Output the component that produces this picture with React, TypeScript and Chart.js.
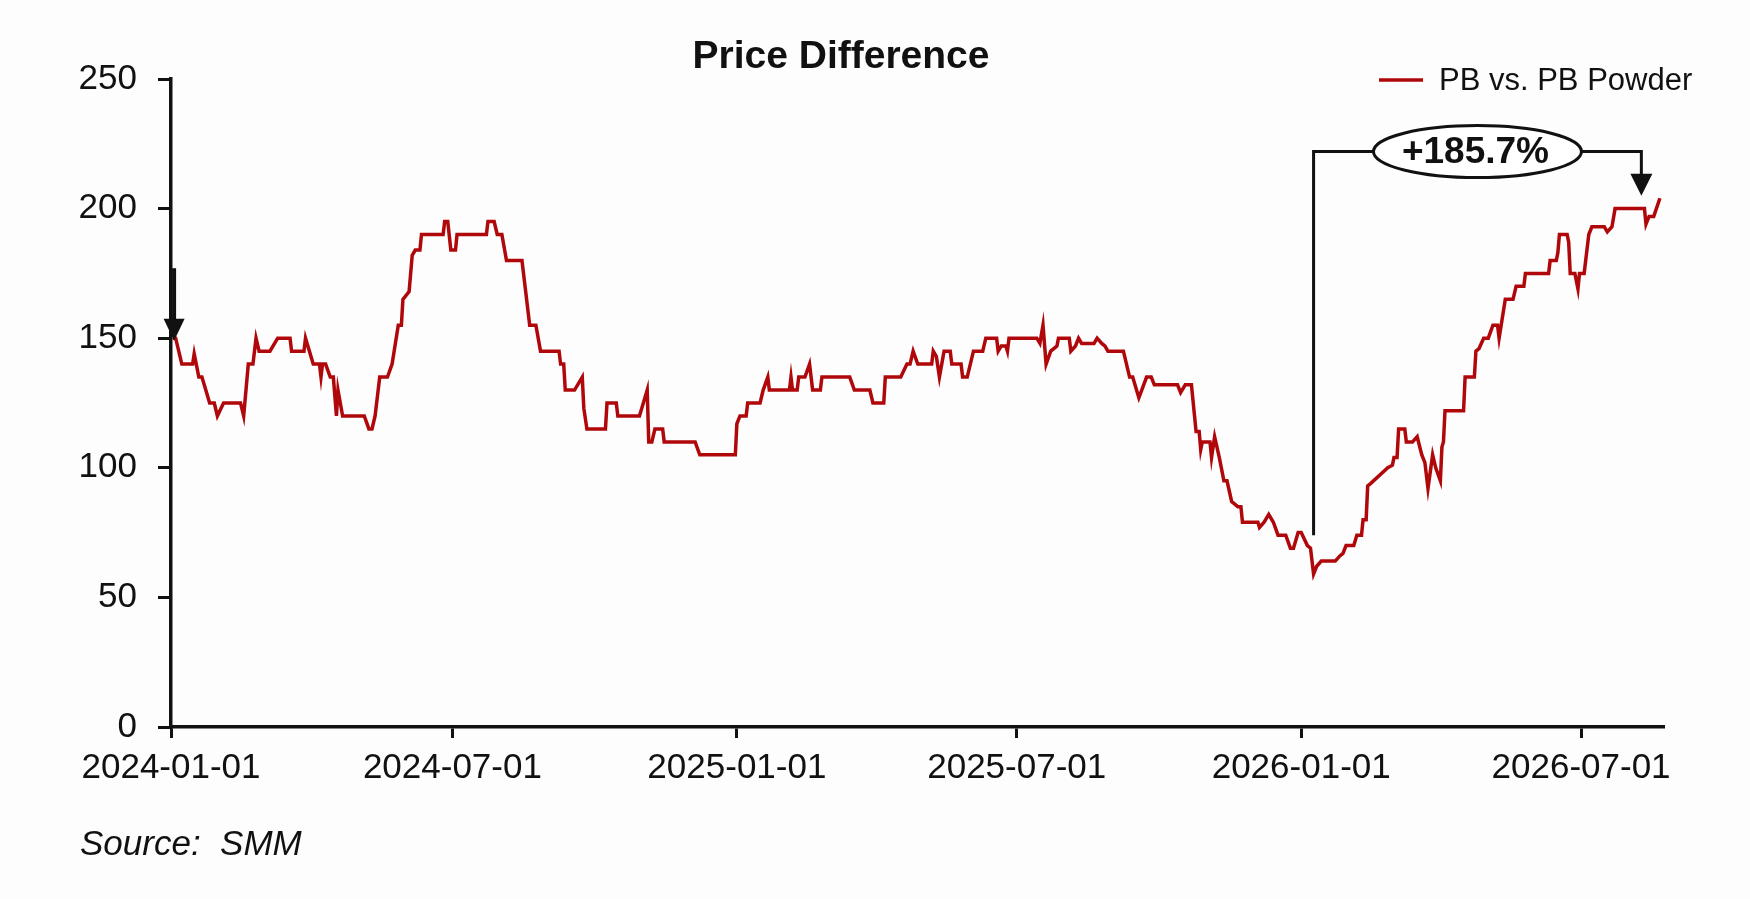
import React, { useEffect, useRef } from 'react';
import { Chart, registerables } from 'chart.js';

Chart.register(...registerables);

// PB vs. PB Powder price difference
const dates = [
  '2024-01-02', '2024-01-04', '2024-01-08', '2024-01-15', '2024-01-16', '2024-01-19', '2024-01-21', '2024-01-26',
  '2024-01-29', '2024-01-31', '2024-02-04', '2024-02-15', '2024-02-17', '2024-02-20', '2024-02-23', '2024-02-25',
  '2024-02-27', '2024-03-05', '2024-03-10', '2024-03-18', '2024-03-19', '2024-03-27', '2024-03-28', '2024-04-02',
  '2024-04-06', '2024-04-07', '2024-04-08', '2024-04-10', '2024-04-13', '2024-04-15', '2024-04-17', '2024-04-18',
  '2024-04-21', '2024-05-05', '2024-05-08', '2024-05-10', '2024-05-12', '2024-05-15', '2024-05-20', '2024-05-23',
  '2024-05-27', '2024-05-29', '2024-05-30', '2024-06-03', '2024-06-05', '2024-06-07', '2024-06-10', '2024-06-11',
  '2024-06-25', '2024-06-26', '2024-06-28', '2024-06-30', '2024-07-03', '2024-07-04', '2024-07-23', '2024-07-24',
  '2024-07-28', '2024-07-30', '2024-08-02', '2024-08-05', '2024-08-15', '2024-08-20', '2024-08-24', '2024-08-27',
  '2024-09-08', '2024-09-09', '2024-09-11', '2024-09-12', '2024-09-18', '2024-09-23', '2024-09-24', '2024-09-26',
  '2024-10-08', '2024-10-09', '2024-10-15', '2024-10-16', '2024-10-30', '2024-11-04', '2024-11-05', '2024-11-07',
  '2024-11-09', '2024-11-14', '2024-11-15', '2024-12-05', '2024-12-08', '2024-12-31', '2025-01-01', '2025-01-03',
  '2025-01-07', '2025-01-08', '2025-01-16', '2025-01-18', '2025-01-21', '2025-01-22', '2025-02-04', '2025-02-05',
  '2025-02-06', '2025-02-09', '2025-02-10', '2025-02-14', '2025-02-17', '2025-02-19', '2025-02-24', '2025-02-25',
  '2025-03-15', '2025-03-18', '2025-03-28', '2025-03-30', '2025-04-06', '2025-04-07', '2025-04-17', '2025-04-21',
  '2025-04-23', '2025-04-25', '2025-04-28', '2025-05-07', '2025-05-08', '2025-05-10', '2025-05-12', '2025-05-15',
  '2025-05-19', '2025-05-20', '2025-05-26', '2025-05-27', '2025-05-30', '2025-06-03', '2025-06-09', '2025-06-11',
  '2025-06-18', '2025-06-19', '2025-06-21', '2025-06-24', '2025-06-25', '2025-06-26', '2025-07-14', '2025-07-16',
  '2025-07-18', '2025-07-20', '2025-07-23', '2025-07-27', '2025-07-28', '2025-08-04', '2025-08-05', '2025-08-08',
  '2025-08-10', '2025-08-12', '2025-08-20', '2025-08-22', '2025-08-25', '2025-08-27', '2025-08-29', '2025-09-08',
  '2025-09-12', '2025-09-14', '2025-09-18', '2025-09-23', '2025-09-26', '2025-09-28', '2025-10-13', '2025-10-15',
  '2025-10-18', '2025-10-22', '2025-10-25', '2025-10-27', '2025-10-28', '2025-10-29', '2025-11-03', '2025-11-04',
  '2025-11-06', '2025-11-09', '2025-11-12', '2025-11-14', '2025-11-17', '2025-11-21', '2025-11-23', '2025-11-24',
  '2025-12-04', '2025-12-05', '2025-12-08', '2025-12-11', '2025-12-14', '2025-12-17', '2025-12-22', '2025-12-25',
  '2025-12-27', '2025-12-30', '2026-01-01', '2026-01-05', '2026-01-07', '2026-01-09', '2026-01-11', '2026-01-14',
  '2026-01-23', '2026-01-26', '2026-01-28', '2026-01-30', '2026-02-04', '2026-02-06', '2026-02-09', '2026-02-10',
  '2026-02-12', '2026-02-13', '2026-02-15', '2026-02-26', '2026-03-01', '2026-03-02', '2026-03-04', '2026-03-05',
  '2026-03-09', '2026-03-10', '2026-03-14', '2026-03-17', '2026-03-20', '2026-03-22', '2026-03-24', '2026-03-27',
  '2026-03-29', '2026-04-01', '2026-04-02', '2026-04-03', '2026-04-04', '2026-04-16', '2026-04-17', '2026-04-23',
  '2026-04-24', '2026-04-26', '2026-04-29', '2026-05-02', '2026-05-05', '2026-05-08', '2026-05-09', '2026-05-13',
  '2026-05-18', '2026-05-20', '2026-05-25', '2026-05-26', '2026-06-10', '2026-06-11', '2026-06-15', '2026-06-16',
  '2026-06-17', '2026-06-22', '2026-06-23', '2026-06-24', '2026-06-27', '2026-06-29', '2026-06-30', '2026-07-03',
  '2026-07-06', '2026-07-08', '2026-07-16', '2026-07-18', '2026-07-21', '2026-07-23', '2026-08-11', '2026-08-12',
  '2026-08-14', '2026-08-17', '2026-08-21',
];

const values = [
  150, 150, 140, 140, 144, 135, 135, 125,
  125, 120, 125, 125, 120, 140, 140, 150,
  145, 145, 150, 150, 145, 145, 150, 140,
  140, 135, 140, 140, 135, 135, 120, 130,
  120, 120, 115, 115, 120, 135, 135, 140,
  155, 155, 165, 168, 182, 184, 184, 190,
  190, 195, 195, 184, 184, 190, 190, 195,
  195, 190, 190, 180, 180, 155, 155, 145,
  145, 140, 140, 130, 130, 135, 123, 115,
  115, 125, 125, 120, 120, 130, 110, 110,
  115, 115, 110, 110, 105, 105, 117, 120,
  120, 125, 125, 130, 135, 130, 130, 135,
  130, 130, 135, 135, 140, 130, 130, 135,
  135, 130, 130, 125, 125, 135, 135, 140,
  140, 145, 140, 140, 145, 143, 135, 145,
  145, 140, 140, 135, 135, 145, 145, 150,
  150, 145, 147, 147, 145, 150, 150, 148,
  155, 140, 145, 147, 150, 150, 145, 147,
  150, 148, 148, 150, 148, 147, 145, 145,
  135, 135, 127, 135, 135, 132, 132, 129,
  132, 132, 114, 114, 107, 110, 110, 104,
  112, 104, 95, 95, 87, 85, 85, 79,
  79, 77, 79, 82, 79, 74, 74, 69,
  69, 75, 75, 70, 69, 59, 62, 64,
  64, 66, 67, 70, 70, 74, 74, 80,
  80, 93, 94, 100, 101, 104, 104, 115,
  115, 110, 110, 112, 105, 102, 92, 105,
  100, 95, 108, 110, 122, 122, 135, 135,
  145, 146, 150, 150, 155, 155, 150, 165,
  165, 170, 170, 175, 175, 180, 180, 183,
  190, 190, 187, 175, 175, 169, 175, 175,
  190, 193, 193, 191, 193, 200, 200, 194,
  197, 197, 204,
];

const xTickDates = ['2024-01-01', '2024-07-01', '2025-01-01', '2025-07-01', '2026-01-01', '2026-07-01'];
const yTicks = [0, 50, 100, 150, 200, 250];
const xStart = '2024-01-01';
const xEnd = '2026-08-23';

const chartTitle = 'Price Difference';
const seriesName = 'PB vs. PB Powder';
const sourceNote = 'Source:  SMM';

// annotations: arrow onto the first value, bracket from the low to the latest high
const startArrow = { date: '2024-01-03', from: 177, to: 149 };
const gainFrom = { date: '2026-01-09', value: 74 };
const gainTo = { date: '2026-08-09', value: 205 };
const gainLevel = 222;
const gainLabel = '+185.7%';

const RED = '#b0070b';
const INK = '#111111';
const FONT = '"Liberation Sans", Arial, sans-serif';

const ts = (d: string) => Date.parse(d);

const arrowHead = (ctx: CanvasRenderingContext2D, x: number, y: number, w: number, h: number) => {
  ctx.beginPath();
  ctx.moveTo(x, y);
  ctx.lineTo(x - w / 2, y - h);
  ctx.lineTo(x + w / 2, y - h);
  ctx.closePath();
  ctx.fill();
};

const decorations = {
  id: 'decorations',
  afterDatasetsDraw(chart: Chart) {
    const { ctx } = chart;
    const x = chart.scales.x;
    const y = chart.scales.y;
    ctx.save();
    ctx.strokeStyle = INK;
    ctx.fillStyle = INK;

    // arrow at the start of the series
    const ax = x.getPixelForValue(ts(startArrow.date));
    const aTop = y.getPixelForValue(startArrow.from);
    const aTip = y.getPixelForValue(startArrow.to);
    ctx.lineWidth = 4;
    ctx.beginPath();
    ctx.moveTo(ax, aTop);
    ctx.lineTo(ax, aTip - 18);
    ctx.stroke();
    arrowHead(ctx, ax, aTip, 21, 22);

    // bracket with the gain label
    const x1 = x.getPixelForValue(ts(gainFrom.date));
    const x2 = x.getPixelForValue(ts(gainTo.date));
    const yLevel = y.getPixelForValue(gainLevel);
    const y1 = y.getPixelForValue(gainFrom.value);
    const y2 = y.getPixelForValue(gainTo.value);
    ctx.lineWidth = 3;
    ctx.beginPath();
    ctx.moveTo(x1, y1);
    ctx.lineTo(x1, yLevel);
    ctx.lineTo(x2, yLevel);
    ctx.lineTo(x2, y2 - 18);
    ctx.stroke();
    arrowHead(ctx, x2, y2, 22, 22);

    const cx = (x1 + x2) / 2;
    ctx.beginPath();
    ctx.ellipse(cx, yLevel, 104, 26, 0, 0, Math.PI * 2);
    ctx.fillStyle = '#ffffff';
    ctx.fill();
    ctx.stroke();
    ctx.fillStyle = INK;
    ctx.font = `bold 37px ${FONT}`;
    ctx.textAlign = 'center';
    ctx.textBaseline = 'middle';
    ctx.fillText(gainLabel, cx - 2, yLevel + 1);

    // title
    ctx.font = `bold 39px ${FONT}`;
    ctx.fillText(chartTitle, 841, 57);

    // legend
    ctx.strokeStyle = RED;
    ctx.lineWidth = 3.5;
    ctx.beginPath();
    ctx.moveTo(1379, 80);
    ctx.lineTo(1423, 80);
    ctx.stroke();
    ctx.font = `31px ${FONT}`;
    ctx.textAlign = 'left';
    ctx.fillText(seriesName, 1439, 81);

    // source
    ctx.font = `italic 35px ${FONT}`;
    ctx.fillText(sourceNote, 80, 845);
    ctx.restore();
  },
};

const App: React.FC = () => {
  const canvasRef = useRef<HTMLCanvasElement>(null);

  useEffect(() => {
    if (!canvasRef.current) return;
    const chart = new Chart(canvasRef.current, {
      type: 'line',
      data: {
        datasets: [
          {
            label: seriesName,
            data: dates.map((d, i) => ({ x: ts(d), y: values[i] })),
            borderColor: RED,
            borderWidth: 3.5,
            pointRadius: 0,
            tension: 0,
            fill: false,
          },
        ],
      },
      options: {
        animation: false,
        responsive: true,
        maintainAspectRatio: false,
        layout: { padding: { top: 79, right: 87, bottom: 0, left: 0 } },
        plugins: {
          legend: { display: false },
          title: { display: false },
          tooltip: { enabled: false },
        },
        scales: {
          x: {
            type: 'linear',
            min: ts(xStart),
            max: ts(xEnd),
            afterBuildTicks: (scale) => {
              scale.ticks = xTickDates.map((d) => ({ value: ts(d) }));
            },
            afterFit: (scale) => {
              scale.height = 172;
            },
            border: { display: true, color: INK, width: 3.5 },
            grid: { drawOnChartArea: false, drawTicks: true, tickLength: 11, color: INK, lineWidth: 3 },
            ticks: {
              autoSkip: false,
              maxRotation: 0,
              padding: 9,
              color: INK,
              font: { family: FONT, size: 35 },
              callback: (v) => new Date(Number(v)).toISOString().slice(0, 10),
            },
          },
          y: {
            min: 0,
            max: 250,
            afterBuildTicks: (scale) => {
              scale.ticks = yTicks.map((v) => ({ value: v }));
            },
            afterFit: (scale) => {
              scale.width = 171;
            },
            border: { display: true, color: INK, width: 3.5 },
            grid: { drawOnChartArea: false, drawTicks: true, tickLength: 13, color: INK, lineWidth: 3 },
            ticks: {
              padding: 21,
              color: INK,
              font: { family: FONT, size: 35 },
            },
          },
        },
      },
      plugins: [decorations],
    });
    return () => chart.destroy();
  }, []);

  return (
    <div style={{ position: 'fixed', left: 0, top: 0, width: '100vw', height: '100vh', background: '#fdfdfd' }}>
      <canvas ref={canvasRef} />
    </div>
  );
};

export default App;
